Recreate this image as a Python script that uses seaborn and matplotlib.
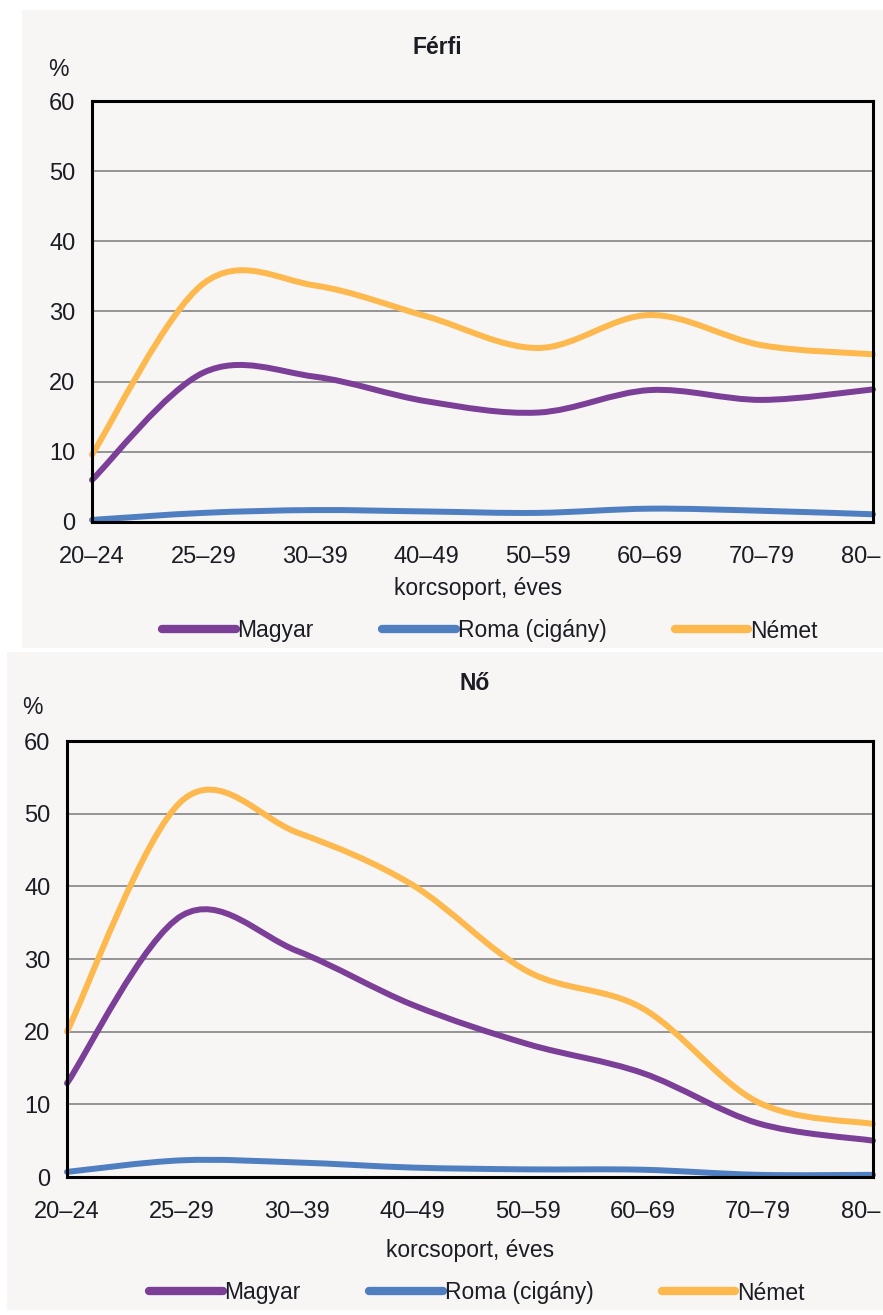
import numpy as np
import pandas as pd
import matplotlib
matplotlib.use("Agg")
import matplotlib.pyplot as plt
from matplotlib.path import Path
from matplotlib.patches import Rectangle
from matplotlib.lines import Line2D
from matplotlib.patheffects import AbstractPathEffect
from matplotlib.transforms import IdentityTransform, ScaledTranslation
import seaborn as sns


age_groups = ["20–24", "25–29", "30–39", "40–49", "50–59", "60–69", "70–79", "80–"]
nations = ["Magyar", "Roma (cigány)", "Német"]

ferfi_magyar = [6.0, 21.3, 20.7, 17.2, 15.6, 18.8, 17.4, 18.9]
ferfi_roma = [0.3, 1.3, 1.7, 1.5, 1.3, 1.9, 1.6, 1.1]
ferfi_nemet = [9.6, 34.0, 33.7, 29.3, 24.8, 29.5, 25.2, 23.9]

no_magyar = [12.9, 36.0, 31.1, 23.7, 18.3, 14.3, 7.4, 5.0]
no_roma = [0.7, 2.3, 2.0, 1.3, 1.05, 1.0, 0.3, 0.3]
no_nemet = [20.0, 51.8, 47.4, 40.2, 28.3, 23.2, 10.3, 7.3]

colors = {"Magyar": "#7b3f98", "Roma (cigány)": "#4f7fc1", "Német": "#fdb84e"}
bg = "#f7f6f4"
txt = "#1c1c24"


class Smooth(AbstractPathEffect):
    # Excel-like smoothed line: Catmull-Rom curve through the plotted points
    def draw_path(self, renderer, gc, tpath, affine, rgbFace=None):
        pts = affine.transform(tpath.vertices)
        n = len(pts)
        if n < 3:
            renderer.draw_path(gc, tpath, affine, rgbFace)
            return
        ext = np.vstack([pts[0], pts, pts[-1]])
        tang = (ext[2:] - ext[:-2]) / 2
        verts = [pts[0]]
        codes = [Path.MOVETO]
        for i in range(n - 1):
            verts += [pts[i] + tang[i] / 3, pts[i + 1] - tang[i + 1] / 3, pts[i + 1]]
            codes += [Path.CURVE4] * 3
        renderer.draw_path(gc, Path(np.array(verts), codes), IdentityTransform(), rgbFace)


def make_df(magyar, roma, nemet):
    rows = []
    for name, vals in zip(nations, [magyar, roma, nemet]):
        for i, v in enumerate(vals):
            rows.append({"pos": i, "kor": age_groups[i], "nemzet": name, "ertek": v})
    return pd.DataFrame(rows)


sns.set_theme(style="white")
plt.rcParams["font.family"] = ["Liberation Sans", "DejaVu Sans"]
fs = 16.5
fs_tick = 17

fig = plt.figure(figsize=(8.83, 13.15), dpi=100)
fig.patch.set_facecolor("white")
W, H = 883, 1315


def fx(x):
    return x / W


def fy(y):
    return 1 - y / H


fig.add_artist(Rectangle((fx(22), fy(648)), fx(861), (648 - 10) / H,
                         transform=fig.transFigure, facecolor=bg, edgecolor="none", zorder=0))
fig.add_artist(Rectangle((fx(7), fy(1310)), fx(876), (1310 - 652) / H,
                         transform=fig.transFigure, facecolor=bg, edgecolor="none", zorder=0))

panels = [
    dict(title="Férfi", data=(ferfi_magyar, ferfi_roma, ferfi_nemet),
         box=(92, 101, 873, 522), title_xy=(437, 48), pct_xy=(58, 70),
         xlabel_xy=(478, 589), legend_xy=(490, 631)),
    dict(title="Nő", data=(no_magyar, no_roma, no_nemet),
         box=(67, 741, 873, 1177), title_xy=(475, 684), pct_xy=(32, 708),
         xlabel_xy=(470, 1250), legend_xy=(477, 1293)),
]

for p in panels:
    x0, y0, x1, y1 = p["box"]
    ax = fig.add_axes([fx(x0), fy(y1), fx(x1 - x0), (y1 - y0) / H])
    ax.set_facecolor(bg)
    df = make_df(*p["data"])
    sns.lineplot(data=df, x="pos", y="ertek", hue="nemzet", palette=colors,
                 hue_order=nations, linewidth=4.3, legend=False, ax=ax,
                 solid_capstyle="round")
    for line in ax.get_lines():
        line.set_path_effects([Smooth()])
        line.set_clip_on(False)

    ax.set_xlim(0, len(age_groups) - 1)
    ax.set_ylim(0, 60)
    ax.set_xticks(range(len(age_groups)))
    ax.set_xticklabels(age_groups)
    ax.set_yticks(range(0, 61, 10))
    ax.set_xlabel("")
    ax.set_ylabel("")
    ax.grid(axis="y", color="#8c8c8c", linewidth=1.3)
    ax.grid(axis="x", visible=False)
    ax.set_axisbelow(True)
    for s in ax.spines.values():
        s.set_color("black")
        s.set_linewidth(2.2)
        s.set_visible(True)
    ax.tick_params(axis="both", direction="out", length=7, width=1.5, color="black",
                   labelsize=fs_tick, labelcolor=txt, pad=5)
    ax.tick_params(axis="x", pad=10)
    last = ax.get_xticklabels()[-1]
    last.set_horizontalalignment("right")
    last.set_transform(last.get_transform() + ScaledTranslation(0.07, 0, fig.dpi_scale_trans))

    fig.text(fx(p["title_xy"][0]), fy(p["title_xy"][1]), p["title"], ha="center", va="center",
             fontsize=fs, fontweight="bold", color=txt)
    fig.text(fx(p["pct_xy"][0]), fy(p["pct_xy"][1]), "%", ha="center", va="center",
             fontsize=fs, color=txt)
    fig.text(fx(p["xlabel_xy"][0]), fy(p["xlabel_xy"][1]), "korcsoport, éves", ha="center",
             va="center", fontsize=fs, color=txt)

    handles = [Line2D([0], [0], color=colors[n], linewidth=6, solid_capstyle="round")
               for n in nations]
    fig.legend(handles, nations, loc="center", ncol=3, frameon=False, fontsize=fs,
               bbox_to_anchor=(fx(p["legend_xy"][0]), fy(p["legend_xy"][1])),
               handlelength=3.2, handletextpad=0.08, columnspacing=3.0,
               labelcolor=txt)

fig.savefig("out.png", dpi=100, facecolor="white")
